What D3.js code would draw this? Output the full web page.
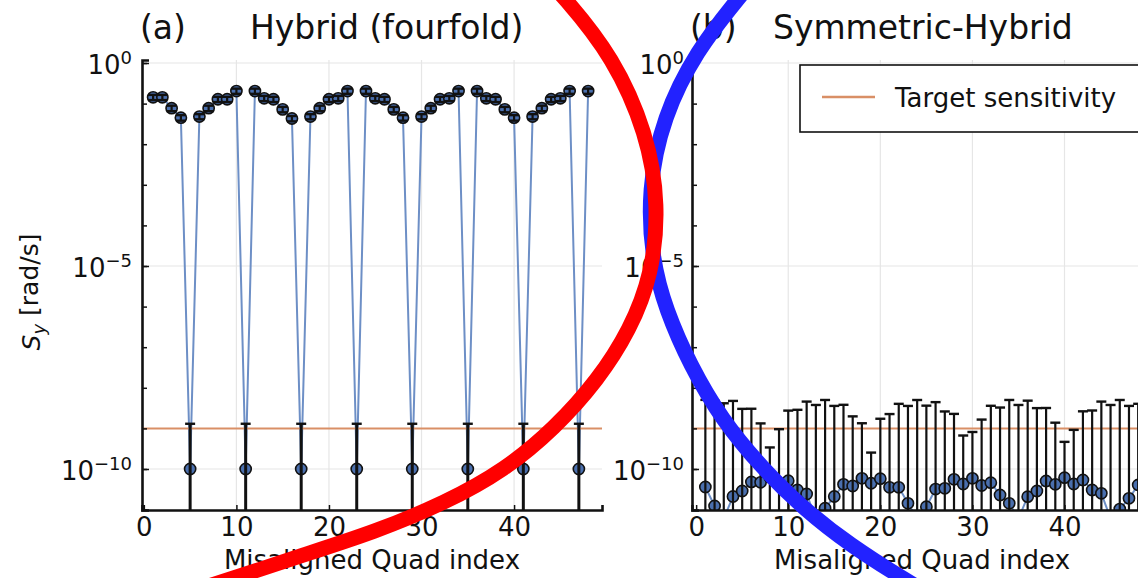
<!DOCTYPE html>
<html>
<head>
<meta charset="utf-8">
<script src="https://cdn.jsdelivr.net/npm/d3@7"></script>
<style>
  body { margin: 0; background: #fff; }
  svg { display: block; font-family: "DejaVu Sans", sans-serif; }
</style>
</head>
<body>
<div id="wrapper"></div>
<script>
// quad index on the x axis (same for both panels)
const quadIndex = [1, 2, 3, 4, 5, 6, 7, 8, 9, 10, 11, 12, 13, 14, 15, 16, 17, 18, 19, 20, 21, 22, 23, 24,
    25, 26, 27, 28, 29, 30, 31, 32, 33, 34, 35, 36, 37, 38, 39, 40, 41, 42, 43, 44, 45, 46, 47, 48];

// (a) Hybrid (fourfold): S_y and its error
const hybridValues = [0.143, 0.143, 0.077, 0.045, 1e-10, 0.048, 0.077, 0.128, 0.128, 0.204, 1e-10, 0.204,
    0.135, 0.128, 0.072, 0.043, 1e-10, 0.048, 0.077, 0.128, 0.135, 0.204, 1e-10, 0.204,
    0.135, 0.128, 0.072, 0.045, 1e-10, 0.048, 0.077, 0.128, 0.135, 0.204, 1e-10, 0.204,
    0.135, 0.128, 0.072, 0.045, 1e-10, 0.048, 0.077, 0.128, 0.135, 0.204, 1e-10, 0.204];
const hybridErrors = [0.021, 0.021, 0.012, 0.007, 1.2e-9, 0.007, 0.012, 0.019, 0.019, 0.03, 1.2e-9, 0.03,
    0.02, 0.019, 0.011, 0.0065, 1.2e-9, 0.007, 0.012, 0.019, 0.02, 0.03, 1.2e-9, 0.03,
    0.02, 0.019, 0.011, 0.007, 1.2e-9, 0.007, 0.012, 0.019, 0.02, 0.03, 1.2e-9, 0.03,
    0.02, 0.019, 0.011, 0.007, 1.2e-9, 0.007, 0.012, 0.019, 0.02, 0.03, 1.2e-9, 0.03];

// (b) Symmetric-Hybrid: S_y and its error
const symValues = [3.6e-11, 1.23e-11, 6e-12, 2.1e-11, 2.87e-11, 4.8e-11, 4.7e-11, 6.25e-11, 4.6e-11, 5.15e-11, 3.04e-11, 2.42e-11,
    6e-12, 1.08e-11, 2.1e-11, 4.2e-11, 3.81e-11, 5.9e-11, 4.45e-11, 5.77e-11, 3.54e-11, 3.54e-11, 1.43e-11, 6e-12,
    1.18e-11, 3.21e-11, 3.34e-11, 5.57e-11, 4.27e-11, 5.9e-11, 3.92e-11, 4.6e-11, 2.29e-11, 1.43e-11, 6e-12, 2.08e-11,
    2.87e-11, 5.06e-11, 4.2e-11, 6.1e-11, 4.27e-11, 5.36e-11, 3.04e-11, 2.52e-11, 6e-12, 1.03e-11, 1.9e-11, 4.04e-11];
const symErrors = [5.0e-9, 4.8e-9, 4.15e-9, 4.73e-9, 3.0e-9, 3.0e-9, 1.28e-9, 2.77e-10, 9.1e-10, 2.69e-9, 2.84e-9, 4.55e-9,
    3.77e-9, 5.0e-9, 3.56e-9, 3.77e-9, 1.94e-9, 1.28e-9, 2.09e-10, 1.67e-9, 2.22e-9, 3.99e-9, 3.56e-9, 5.0e-9,
    3.62e-9, 4.4e-9, 2.58e-9, 2.22e-9, 6.25e-10, 7.57e-10, 1.61e-9, 3.56e-9, 3.24e-9, 5.0e-9, 3.77e-9, 4.8e-9,
    3.13e-9, 3.13e-9, 1.34e-9, 4.05e-10, 8.77e-10, 2.58e-9, 2.73e-9, 4.55e-9, 3.77e-9, 5.0e-9, 3.56e-9, 3.99e-9];

const targetSensitivity = 1e-9;

const xTicks = [0, 10, 20, 30, 40];
const yMajorExponents = [0, -5, -10];
const yDecadeExponents = [0, -1, -2, -3, -4, -5, -6, -7, -8, -9, -10, -11];

// hand-drawn marks laid over the figure
const redStroke = [[520, -50], [567, 0], [613, 57], [647, 133], [659, 205], [652, 275], [630, 330], [598, 380],
    [555, 428], [505, 470], [445, 503], [375, 532], [300, 556], [243, 575], [190, 592]];
const blueStroke = [[770, -40], [737, 0], [697, 50], [663, 117], [648, 190], [652, 260], [666, 310],
    [690, 365], [722, 420], [762, 468], [805, 510], [850, 545], [905, 580], [940, 600]];

const LINE_COLOR = "#6d8fc6";
const MARKER_COLOR = "#4a6fae";
const TARGET_COLOR = "#d98f66";
const GRID_COLOR = "#e6e6e6";

const width = 1138;
const height = 578;
const plotTop = 60;
const plotBottom = 510;

const svg = d3.select("#wrapper")
    .append("svg")
    .attr("width", width)
    .attr("height", height);

const yScale = d3.scaleLog()
    .domain([Math.pow(10, -11.01), Math.pow(10, 0.074)])
    .range([plotBottom, plotTop]);

function drawPanel(opts) {
    const xScale = d3.scaleLinear()
        .domain(opts.domain)
        .range([opts.left, opts.right]);

    const g = svg.append("g");

    const clipId = "clip-" + opts.name;
    svg.append("clipPath").attr("id", clipId)
        .append("rect")
        .attr("x", opts.left)
        .attr("y", plotTop - 10)
        .attr("width", opts.right - opts.left)
        .attr("height", plotBottom - plotTop + 10);

    // grid
    const grid = g.append("g");
    grid.selectAll("line.gx")
        .data(xTicks.slice(1))
        .enter().append("line")
        .attr("x1", d => xScale(d)).attr("x2", d => xScale(d))
        .attr("y1", plotTop).attr("y2", plotBottom)
        .attr("stroke", GRID_COLOR).attr("stroke-width", 1.2);
    grid.selectAll("line.gy")
        .data(yMajorExponents)
        .enter().append("line")
        .attr("x1", opts.left).attr("x2", opts.right)
        .attr("y1", d => yScale(Math.pow(10, d))).attr("y2", d => yScale(Math.pow(10, d)))
        .attr("stroke", GRID_COLOR).attr("stroke-width", 1.2);

    const data = quadIndex.map((q, i) => ({ q: q, v: opts.values[i], e: opts.errors[i] }));
    const plot = g.append("g").attr("clip-path", `url(#${clipId})`);

    // connecting line
    plot.append("path")
        .datum(data)
        .attr("fill", "none")
        .attr("stroke", LINE_COLOR)
        .attr("stroke-width", 2)
        .attr("d", d3.line().x(d => xScale(d.q)).y(d => yScale(d.v)));

    // target sensitivity
    plot.append("line")
        .attr("x1", opts.left).attr("x2", opts.right)
        .attr("y1", yScale(targetSensitivity)).attr("y2", yScale(targetSensitivity))
        .attr("stroke", TARGET_COLOR)
        .attr("stroke-width", 2);

    // markers
    plot.selectAll("circle")
        .data(data)
        .enter().append("circle")
        .attr("cx", d => xScale(d.q))
        .attr("cy", d => yScale(d.v))
        .attr("r", 5.6)
        .attr("fill", MARKER_COLOR)
        .attr("stroke", "#111")
        .attr("stroke-width", 1.6);

    // error bars
    const low = d => d.v - d.e > 0 ? d.v - d.e : yScale.domain()[0] / 10;
    const bars = plot.append("g").selectAll("g")
        .data(data)
        .enter().append("g")
        .attr("stroke", "#111");
    bars.append("line")
        .attr("x1", d => xScale(d.q)).attr("x2", d => xScale(d.q))
        .attr("y1", d => yScale(low(d)))
        .attr("y2", d => yScale(d.v + d.e))
        .attr("stroke-width", d => d.e > 1e-6 ? 2.2 : opts.barWidth);
    bars.append("line")
        .attr("x1", d => xScale(d.q) - 5).attr("x2", d => xScale(d.q) + 5)
        .attr("y1", d => yScale(d.v + d.e)).attr("y2", d => yScale(d.v + d.e))
        .attr("stroke-width", 2.4);
    bars.filter(d => d.v - d.e > 0).append("line")
        .attr("x1", d => xScale(d.q) - 5).attr("x2", d => xScale(d.q) + 5)
        .attr("y1", d => yScale(d.v - d.e)).attr("y2", d => yScale(d.v - d.e))
        .attr("stroke-width", 2.4);

    // x axis
    const xAxis = g.append("g")
        .attr("transform", `translate(0, ${plotBottom})`)
        .call(d3.axisBottom(xScale).tickValues(xTicks).tickSize(-5).tickPadding(8).tickFormat(d3.format("d")));
    xAxis.select(".domain").attr("stroke", "#111").attr("stroke-width", 2.6);
    xAxis.selectAll(".tick line").attr("stroke", "#111").attr("stroke-width", 1.5);
    xAxis.selectAll("text")
        .attr("fill", "#111")
        .style("font-size", "26px")
        .style("font-family", "DejaVu Sans, sans-serif");

    // y axis: decade ticks, labelled majors
    const yMinor = g.append("g")
        .attr("transform", `translate(${opts.left}, 0)`)
        .call(d3.axisLeft(yScale).tickValues(yDecadeExponents.map(p => Math.pow(10, p))).tickSize(-5).tickFormat(""));
    yMinor.select(".domain").remove();
    yMinor.selectAll(".tick line").attr("stroke", "#111").attr("stroke-width", 1.5);

    const yAxis = g.append("g")
        .attr("transform", `translate(${opts.left}, 0)`)
        .call(d3.axisLeft(yScale).tickValues(yMajorExponents.map(p => Math.pow(10, p))).tickSize(-7).tickPadding(opts.labelGap).tickFormat(""));
    yAxis.select(".domain").attr("stroke", "#111").attr("stroke-width", 2.6);
    yAxis.selectAll(".tick line").attr("stroke", "#111").attr("stroke-width", 1.5);
    yAxis.selectAll(".tick text")
        .attr("fill", "#111")
        .attr("dy", "0.4em")
        .style("font-size", "26px")
        .style("font-family", "DejaVu Sans, sans-serif")
        .each(function (d) {
            const t = d3.select(this);
            t.append("tspan").text("10");
            t.append("tspan")
                .attr("dy", "-0.55em")
                .style("font-size", "18px")
                .text(String(Math.round(Math.log10(d))).replace("-", "\u2212"));
        });

    // titles
    svg.append("text")
        .attr("x", opts.left - 2).attr("y", 39)
        .style("font-size", "33px").attr("fill", "#111")
        .text(opts.tag);
    svg.append("text")
        .attr("x", opts.titleX).attr("y", 39)
        .style("font-size", "33px").attr("fill", "#111")
        .text(opts.title);

    svg.append("text")
        .attr("x", (opts.left + opts.right) / 2).attr("y", 569)
        .attr("text-anchor", "middle")
        .style("font-size", "26px").attr("fill", "#111")
        .text("Misaligned Quad index");

    return xScale;
}

drawPanel({
    name: "a", left: 142, right: 602, domain: [-0.2, 49.5],
    values: hybridValues, errors: hybridErrors, barWidth: 3, labelGap: 10,
    tag: "(a)", title: "Hybrid (fourfold)", titleX: 250
});

drawPanel({
    name: "b", left: 692, right: 1152, domain: [-0.45, 49.5],
    values: symValues, errors: symErrors, barWidth: 2.2, labelGap: 8,
    tag: "(b)", title: "Symmetric-Hybrid", titleX: 773
});

// y label
const yLabel = svg.append("text")
    .attr("transform", "translate(40, 292) rotate(-90)")
    .attr("text-anchor", "middle")
    .style("font-size", "25px")
    .attr("fill", "#111");
yLabel.append("tspan").style("font-style", "italic").text("S");
yLabel.append("tspan").style("font-style", "italic").style("font-size", "18px").attr("dy", "0.3em").text("y");
yLabel.append("tspan").attr("dy", "-0.3em").text(" [rad/s]");

// legend
const legend = svg.append("g");
legend.append("rect")
    .attr("x", 800).attr("y", 65)
    .attr("width", 340).attr("height", 67)
    .attr("fill", "#fff")
    .attr("stroke", "#111")
    .attr("stroke-width", 1.6);
legend.append("line")
    .attr("x1", 822).attr("x2", 875)
    .attr("y1", 97).attr("y2", 97)
    .attr("stroke", TARGET_COLOR)
    .attr("stroke-width", 2.5);
legend.append("text")
    .attr("x", 895).attr("y", 107)
    .style("font-size", "26px")
    .attr("fill", "#111")
    .text("Target sensitivity");

// hand-drawn circles
const strokeLine = d3.line().curve(d3.curveBasis);
svg.append("path")
    .attr("d", strokeLine(blueStroke))
    .attr("fill", "none")
    .attr("stroke", "#2222ff")
    .attr("stroke-width", 15)
    .attr("stroke-linecap", "round");
svg.append("path")
    .attr("d", strokeLine(redStroke))
    .attr("fill", "none")
    .attr("stroke", "#ff0000")
    .attr("stroke-width", 15)
    .attr("stroke-linecap", "round");
</script>
</body>
</html>
